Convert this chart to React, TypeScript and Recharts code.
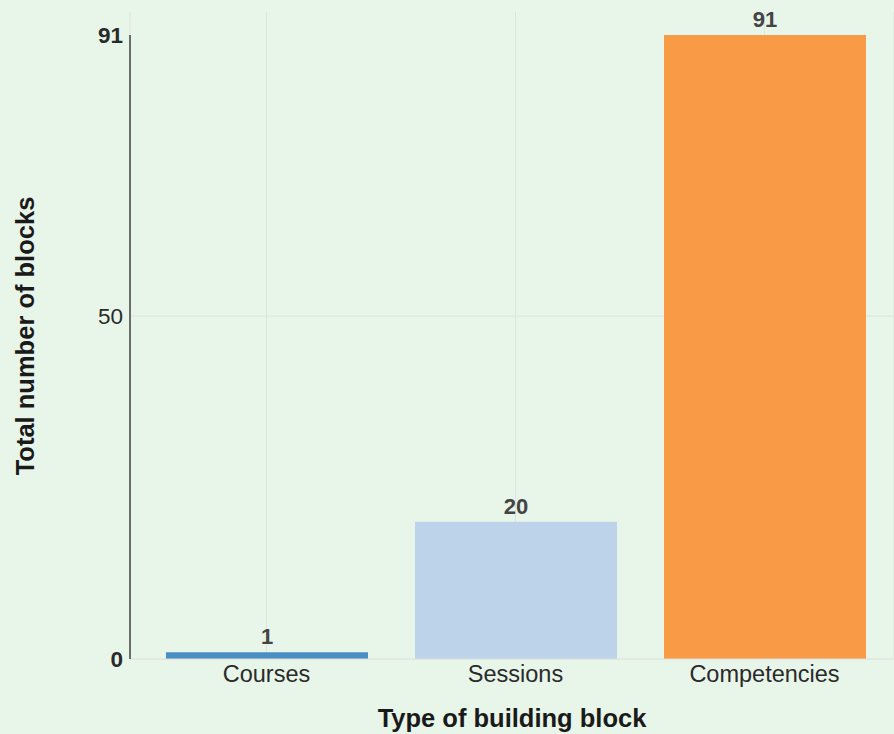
import React from "react"
import {
  BarChart,
  Bar,
  XAxis,
  YAxis,
  CartesianGrid,
  Cell,
  LabelList,
} from "recharts"

const categories = ["Courses", "Sessions", "Competencies"]
const blockCounts = [1, 20, 91]
const barColors = ["#4A8FC4", "#BDD3E9", "#F99A47"]
const yTicks = [0, 50, 91]
const boldTicks = [0, 91]

const data = categories.map((name, i) => ({ name, value: blockCounts[i] }))

const FONT = '"Liberation Sans", Arial, sans-serif'

function YTick(props: any) {
  const { x, y, payload } = props
  const bold = boldTicks.includes(payload.value)
  return (
    <text
      x={x}
      y={y}
      dy="0.36em"
      textAnchor="end"
      fontFamily={FONT}
      fontSize={22.5}
      fontWeight={bold ? "bold" : "normal"}
      fill="#2a2a2a"
    >
      {payload.value}
    </text>
  )
}

// vertical grid reaches a bit above the plot top, like the original
function VLine(props: any) {
  return (
    <line
      x1={props.x1}
      x2={props.x2}
      y1={props.y1 - 23}
      y2={props.y2}
      stroke="#dfe3df"
      strokeWidth={1}
    />
  )
}

export default function App() {
  return (
    <div
      style={{
        position: "absolute",
        top: 0,
        left: 0,
        width: 894,
        height: 734,
        background: "#E8F5E9",
      }}
    >
      <BarChart
        width={894}
        height={734}
        data={data}
        margin={{ top: 35, right: 0, left: 0, bottom: 0 }}
      >
        <CartesianGrid
          horizontalValues={[50]}
          vertical={VLine}
          stroke="#dfe3df"
        />
        <XAxis
          dataKey="name"
          height={75}
          padding={{ left: 12, right: 5 }}
          tickLine={false}
          tickMargin={0}
          axisLine={{ stroke: "#dcdcdc" }}
          tick={{ fontSize: 23.5, fill: "#2a2a2a", fontFamily: FONT }}
          label={{
            value: "Type of building block",
            position: "insideBottom",
            offset: 7,
            style: {
              fontSize: 25.5,
              fontWeight: "bold",
              fill: "#1a1a1a",
              fontFamily: FONT,
            },
          }}
        />
        <YAxis
          width={130}
          domain={[0, 91]}
          ticks={yTicks}
          interval={0}
          tickLine={false}
          tickMargin={1}
          axisLine={{ stroke: "#444", strokeWidth: 1.5 }}
          tick={<YTick />}
          label={{
            value: "Total number of blocks",
            angle: -90,
            position: "insideLeft",
            offset: 25,
            dy: -11,
            style: {
              fontSize: 25.5,
              fontWeight: "bold",
              fill: "#1a1a1a",
              fontFamily: FONT,
              textAnchor: "middle",
            },
          }}
        />
        <Bar dataKey="value" barSize={202} isAnimationActive={false}>
          {data.map((d, i) => (
            <Cell key={d.name} fill={barColors[i]} />
          ))}
          <LabelList
            dataKey="value"
            position="top"
            offset={8}
            style={{
              fontSize: 22,
              fontWeight: "bold",
              fill: "#444",
              fontFamily: FONT,
            }}
          />
        </Bar>
      </BarChart>
    </div>
  )
}
